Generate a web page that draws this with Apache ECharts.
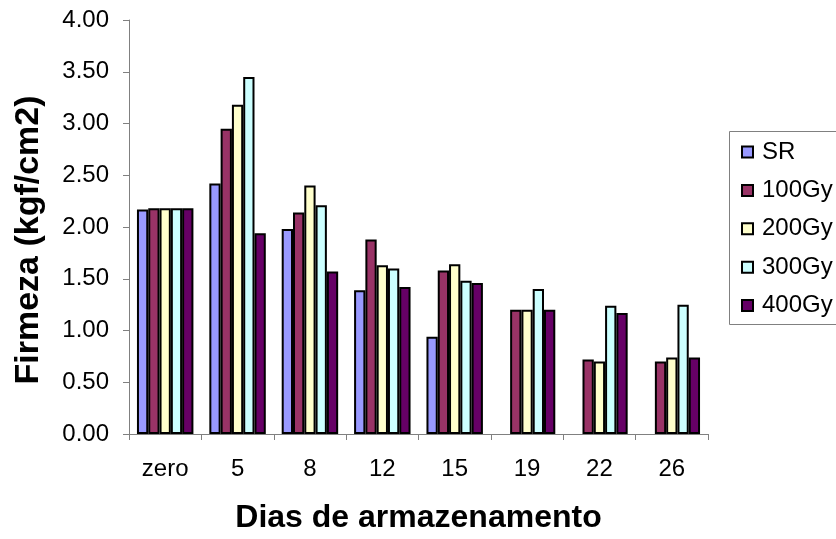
<!DOCTYPE html>
<html>
<head>
<meta charset="utf-8">
<script src="https://cdn.jsdelivr.net/npm/echarts@6/dist/echarts.min.js"></script>
<style>
html,body{margin:0;padding:0;background:#fff;}
#chart{width:836px;height:539px;}
</style>
</head>
<body>
<div id="chart"></div>
<script>
const categories = ['zero', '5', '8', '12', '15', '19', '22', '26'];
const seriesNames = ['SR', '100Gy', '200Gy', '300Gy', '400Gy'];
const sr    = [2.17, 2.42, 1.98, 1.39, 0.94, null, null, null];
const gy100 = [2.18, 2.95, 2.14, 1.88, 1.58, 1.20, 0.72, 0.70];
const gy200 = [2.18, 3.18, 2.40, 1.63, 1.64, 1.20, 0.70, 0.74];
const gy300 = [2.18, 3.45, 2.21, 1.60, 1.48, 1.40, 1.24, 1.25];
const gy400 = [2.18, 1.94, 1.57, 1.42, 1.46, 1.20, 1.17, 0.74];
const yTicks = ['0.00','0.50','1.00','1.50','2.00','2.50','3.00','3.50','4.00'];

const colors = ['#9999FF', '#993366', '#FFFFCC', '#CCFFFF', '#660066'];
const dataSets = [sr, gy100, gy200, gy300, gy400];
const FONT = 'Arial, "Liberation Sans", sans-serif';

const chart = echarts.init(document.getElementById('chart'), null, {renderer: 'canvas'});
chart.setOption({
  animation: false,
  backgroundColor: '#ffffff',
  textStyle: {fontFamily: FONT},
  grid: {left: 129, right: 128, top: 20, bottom: 105, containLabel: false},
  legend: {
    orient: 'vertical',
    left: 736, top: 140,
    padding: [0, 0, 0, 5],
    itemWidth: 11, itemHeight: 11,
    itemGap: 14.4,
    icon: 'rect',
    textStyle: {fontFamily: FONT, fontSize: 24, color: '#000', padding: [0, 0, 0, 4]},
    data: seriesNames.map((n, i) => ({name: n, itemStyle: {color: colors[i], borderColor: '#000', borderWidth: 2}}))
  },
  graphic: [{
    type: 'rect',
    shape: {x: 729.5, y: 131.5, width: 130, height: 193},
    style: {fill: 'none', stroke: '#808080', lineWidth: 1},
    z: -1
  }],
  xAxis: {
    type: 'category',
    data: categories,
    name: 'Dias de armazenamento',
    nameLocation: 'middle',
    nameGap: 68,
    nameTextStyle: {fontFamily: FONT, fontSize: 32, fontWeight: 'bold', color: '#000'},
    axisLine: {lineStyle: {color: '#808080', width: 1}},
    axisTick: {show: true, length: 6, lineStyle: {color: '#808080'}},
    axisLabel: {fontFamily: FONT, fontSize: 24, color: '#000', margin: 23}
  },
  yAxis: {
    type: 'value',
    min: 0, max: 4, interval: 0.5,
    name: 'Firmeza (kgf/cm2)',
    nameLocation: 'middle',
    nameGap: 83,
    nameRotate: 90,
    nameTextStyle: {fontFamily: FONT, fontSize: 34, fontWeight: 'bold', color: '#000', padding: [0, 26, 0, 0]},
    axisLine: {show: true, lineStyle: {color: '#808080', width: 1}},
    axisTick: {show: true, inside: false, length: 6, lineStyle: {color: '#808080'}},
    splitLine: {show: false},
    axisLabel: {fontFamily: FONT, fontSize: 24, color: '#000', margin: 20,
      formatter: (v) => yTicks[Math.round(v / 0.5)]}
  },
  series: seriesNames.map((n, i) => ({
    name: n,
    type: 'bar',
    data: dataSets[i],
    barGap: '0%',
    barCategoryGap: '22%',
    itemStyle: {color: colors[i], borderColor: '#000', borderWidth: 2}
  }))
});
</script>
</body>
</html>
